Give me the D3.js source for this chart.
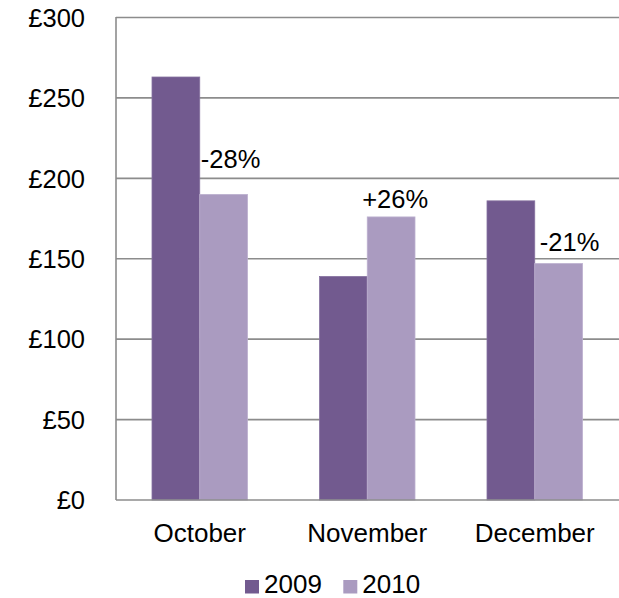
<!DOCTYPE html>
<html>
<head>
<meta charset="utf-8">
<script src="https://cdn.jsdelivr.net/npm/d3@7"></script>
<style>
  html, body { margin: 0; padding: 0; background: #fff; }
  svg { display: block; font-family: "Liberation Sans", Arial, sans-serif; }
</style>
</head>
<body>
<svg id="chart" width="619" height="598"></svg>
<script>
// ---- data ----
const categories = ["October", "November", "December"];
const seriesNames = ["2009", "2010"];
const values2009 = [263, 139, 186];
const values2010 = [190, 176, 147];
const changeLabels = ["-28%", "+26%", "-21%"];
const yTicks = [0, 50, 100, 150, 200, 250, 300];

(function () {
// ---- layout ----
const svg = d3.select("#chart");
const plotLeft = 116, plotRight = 618.5, plotTop = 17.5, plotBottom = 500;
const colors = { "2009": "#725a8f", "2010": "#aa9bc0" };
const strokes = { "2009": "#8672a0", "2010": "#bcb0cf" };
const fontSize = 25.5;
const catFontSize = 26;

const x0 = d3.scaleBand().domain(categories).range([plotLeft, plotRight]).padding(0);
const x1 = d3.scaleBand().domain(seriesNames).range([0, x0.bandwidth()]).paddingInner(0).paddingOuter(0.754);
const y = d3.scaleLinear().domain([0, 300]).range([plotBottom, plotTop]);

// gridlines
svg.append("g").selectAll("line").data(yTicks.filter(d => d > 0)).join("line")
  .attr("x1", plotLeft).attr("x2", plotRight + 1)
  .attr("y1", d => y(d)).attr("y2", d => y(d))
  .attr("stroke", "#8c8c8c").attr("stroke-width", 1.6);

// y tick labels
svg.append("g").selectAll("text").data(yTicks).join("text")
  .attr("x", 85).attr("y", d => y(d))
  .attr("dy", "0.36em")
  .attr("text-anchor", "end")
  .attr("font-size", fontSize)
  .attr("fill", "#000")
  .text(d => "£" + d);

// bars
const rows = categories.map((c, i) => ({ cat: c, vals: [
  { s: "2009", v: values2009[i] }, { s: "2010", v: values2010[i] } ] }));

const groups = svg.append("g").selectAll("g").data(rows).join("g")
  .attr("transform", d => `translate(${x0(d.cat)},0)`);
groups.selectAll("rect").data(d => d.vals).join("rect")
  .attr("x", d => x1(d.s))
  .attr("y", d => y(d.v))
  .attr("width", x1.bandwidth())
  .attr("height", d => y(0) - y(d.v))
  .attr("fill", d => colors[d.s])
  .attr("stroke", d => strokes[d.s])
  .attr("stroke-width", 0.8);

// axes lines
svg.append("line").attr("x1", plotLeft).attr("x2", plotLeft).attr("y1", plotTop - 0.5).attr("y2", plotBottom)
  .attr("stroke", "#8c8c8c").attr("stroke-width", 1.6);
svg.append("line").attr("x1", plotLeft).attr("x2", plotRight + 1).attr("y1", plotBottom).attr("y2", plotBottom)
  .attr("stroke", "#8c8c8c").attr("stroke-width", 1.6);

// x labels
svg.append("g").selectAll("text").data(categories).join("text")
  .attr("x", d => x0(d) + x0.bandwidth() / 2)
  .attr("y", 541.5)
  .attr("text-anchor", "middle")
  .attr("font-size", catFontSize)
  .attr("fill", "#000")
  .text(d => d);

// change labels (placed near the 2010 bar)
const nudge = [{ dx: 7, dy: -26 }, { dx: 4, dy: -8.5 }, { dx: 11, dy: -13 }];
svg.append("g").selectAll("text").data(changeLabels).join("text")
  .attr("x", (d, i) => x0(categories[i]) + x1("2010") + x1.bandwidth() / 2 + nudge[i].dx)
  .attr("y", (d, i) => y(values2010[i]) + nudge[i].dy)
  .attr("text-anchor", "middle")
  .attr("font-size", fontSize)
  .attr("fill", "#000")
  .text(d => d);

// legend
const legendX = [245, 343.3];
const leg = svg.append("g").selectAll("g").data(seriesNames).join("g")
  .attr("transform", (d, i) => `translate(${legendX[i]},0)`);
leg.append("rect").attr("x", 0).attr("y", 580).attr("width", 14).attr("height", 13.5)
  .attr("fill", d => colors[d]);
leg.append("text").attr("x", 19).attr("y", 592.5)
  .attr("font-size", catFontSize).attr("fill", "#000").text(d => d);
})();
</script>
</body>
</html>
